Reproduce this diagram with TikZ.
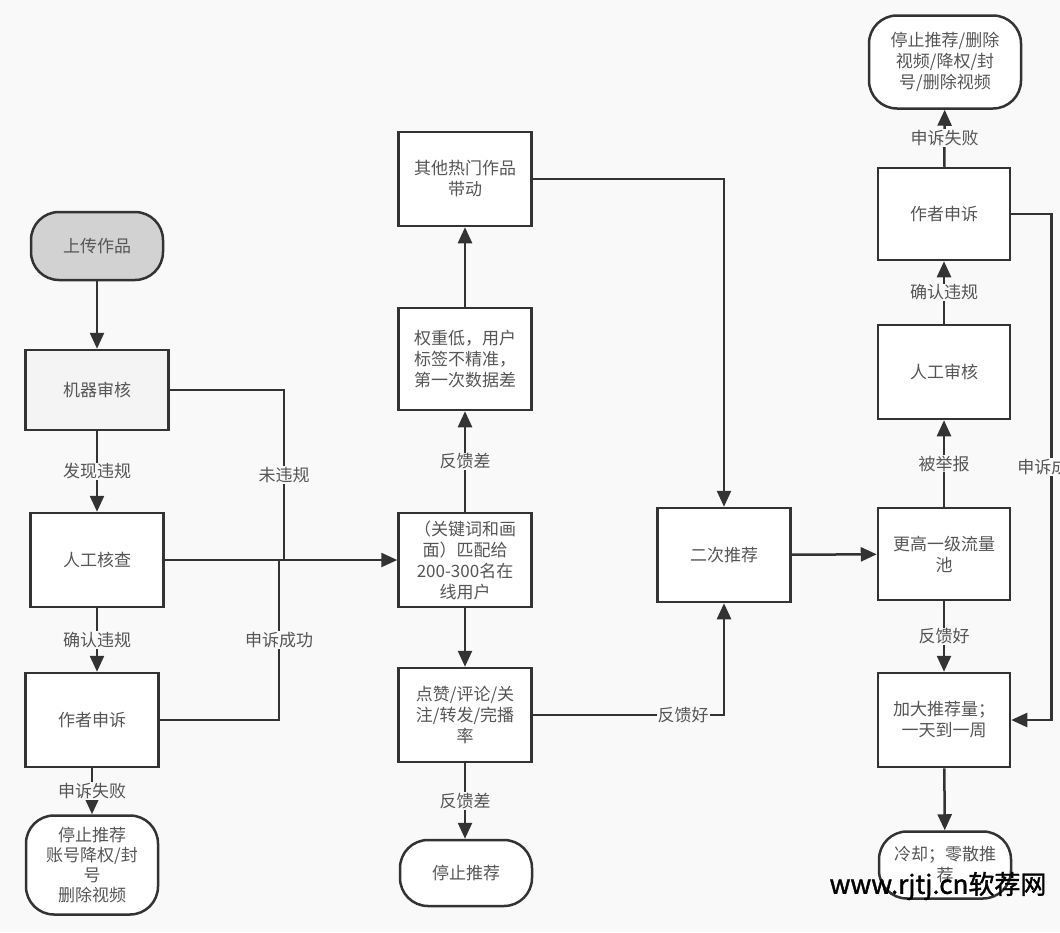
\documentclass[tikz,border=0pt]{standalone}
\usepackage{fontspec}
\setmainfont{Noto Sans CJK SC}
\newfontfamily\wmfont{Noto Sans CJK SC}[FakeBold=1.5]
\usetikzlibrary{arrows.meta}
\definecolor{bg}{HTML}{F9F9F9}
\definecolor{ln}{HTML}{333333}
\definecolor{tx}{HTML}{555555}
\definecolor{startfill}{HTML}{D2D2D2}
\definecolor{machfill}{HTML}{F4F4F4}
\tikzset{
 box/.style={draw=ln, line width=2.5pt, fill=white, minimum width=133pt, minimum height=94pt, inner sep=2pt, align=center, text=tx, font=\fontsize{17}{21}\selectfont},
 term/.style={box, rounded corners=28pt},
 conn/.style={draw=ln, line width=2.5pt, -{Triangle[length=16pt,width=14pt]}},
 plain/.style={draw=ln, line width=2.5pt},
 lab/.style={fill=bg, inner sep=1pt, text=tx, font=\fontsize{17}{19}\selectfont},
}
\begin{document}
\begin{tikzpicture}[x=1pt,y=-1pt]
\fill[bg] (0,0) rectangle (1060,932);
\useasboundingbox (0,0) rectangle (1060,932);

% left column
\node[term, fill=startfill, minimum width=132pt, minimum height=68pt] (upload) at (97,246) {上传作品};
\node[box, fill=machfill, minimum width=143pt, minimum height=80pt] (machine) at (97,390) {机器审核};
\node[box] (manual) at (97,560) {人工核查};
\node[box] (appealL) at (92,720) {作者申诉};
\node[term, minimum width=132pt, minimum height=99pt, font=\fontsize{17}{20}\selectfont] (stopL) at (92,865) {停止推荐\\账号降权/封\\号\\删除视频};

% middle column
\node[box] (hot) at (465,179) {其他热门作品\\带动};
\node[box, minimum height=102pt] (low) at (465,359) {权重低，用户\\标签不精准，\\第一次数据差};
\node[box] (match) at (465,560) {（关键词和画\\面）匹配给\\200-300名在\\线用户};
\node[box] (like) at (465,715) {点赞/评论/关\\注/转发/完播\\率};
\node[term, minimum width=132pt, minimum height=66pt] (stopM) at (466,873) {停止推荐};
\node[box] (second) at (724,555) {二次推荐};

% right column
\node[term, minimum width=152pt, minimum height=93pt] (stopR) at (945,62) {停止推荐/删除\\视频/降权/封\\号/删除视频};
\node[box, minimum width=132pt, minimum height=92pt] (appealR) at (944,214) {作者申诉};
\node[box, minimum width=132pt] (review) at (944,372) {人工审核};
\node[box, minimum width=132pt, minimum height=92pt] (pool) at (944,554) {更高一级流量\\池};
\node[box, minimum width=132pt] (more) at (944,720) {加大推荐量；\\一天到一周};
\node[term, minimum width=132pt, minimum height=67pt] (cool) at (945,865) {冷却；零散推\\荐};

% left connectors
\draw[conn] (upload) -- (machine);
\draw[conn] (machine) -- node[lab]{发现违规} (manual);
\coordinate (j1) at (284,560);
\coordinate (j2) at (279,560);
\draw[plain] (machine.east) -| node[lab, pos=0.75]{未违规} (j1);
\draw[conn] (manual.east) -- (match.west);
\draw[conn] (manual.south) -- node[lab]{确认违规} (manual.south |- appealL.north);
\draw[plain] (appealL.east) -| node[lab, pos=0.75]{申诉成功} (j2);
\draw[conn] (appealL.south) -- node[lab]{申诉失败} (appealL.south |- stopL.north);

% middle connectors
\draw[conn] (match) -- node[lab]{反馈差} (low);
\draw[conn] (low) -- (hot);
\draw[conn] (match) -- (like);
\draw[conn] (like.south) -- node[lab]{反馈差} (like.south |- stopM.north);
\draw[conn] (hot.east) -| (second.north);
\draw[conn] (like.east) -| node[lab, pos=0.393]{反馈好} (second.south);
\draw[conn] (second) -- (pool);

% right connectors
\draw[conn] (pool) -- node[lab]{被举报} (review);
\draw[conn] (review) -- node[lab]{确认违规} (appealR);
\draw[conn] (appealR) -- node[lab]{申诉失败} (stopR);
\draw[conn] (appealR.east) -- ++(40,0) |- node[lab, pos=0.25]{申诉成功} (more.east);
\draw[conn] (pool) -- node[lab]{反馈好} (more);
\draw[conn] (more) -- (cool);

% watermark
\node[font=\wmfont\fontsize{26}{26}\selectfont, text=black, inner sep=0pt] (wm) at (938,886) {www.rjtj.cn软荐网};
\end{tikzpicture}
\end{document}
